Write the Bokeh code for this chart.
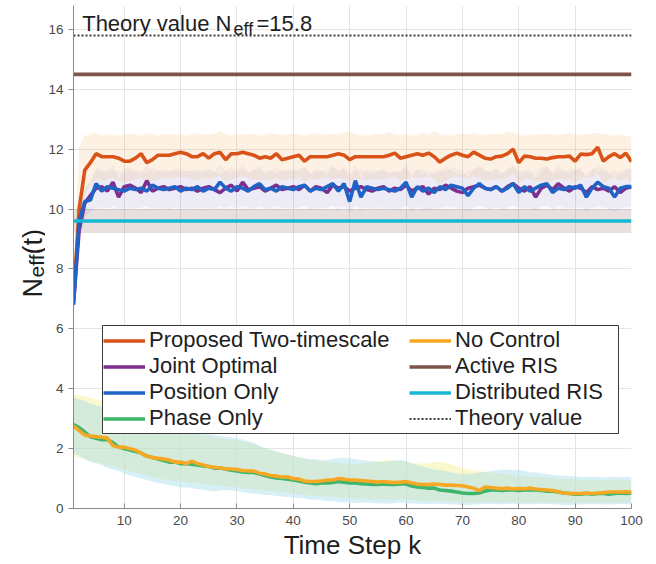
from math import pi

from bokeh.embed import file_html
from bokeh.layouts import row
from bokeh.models import (BoxAnnotation, FixedTicker, Label, Legend, LegendItem, Range1d)
from bokeh.plotting import figure
from bokeh.resources import INLINE

# ---------------------------------------------------------------- data
K = list(range(1, 101))

PROPOSED = [
    7.0, 10.0, 11.3, 11.55, 11.85, 11.75, 11.75, 11.75, 11.7, 11.6,
    11.6, 11.7, 11.85, 11.55, 11.65, 11.8, 11.8, 11.8, 11.85, 11.9,
    11.85, 11.75, 11.75, 11.85, 11.7, 11.85, 11.9, 11.65, 11.85, 11.85,
    11.9, 11.85, 11.8, 11.7, 11.75, 11.7, 11.85, 11.65, 11.7, 11.75,
    11.8, 11.6, 11.75, 11.75, 11.75, 11.75, 11.8, 11.85, 11.8, 11.65,
    11.75, 11.75, 11.75, 11.75, 11.75, 11.75, 11.8, 11.87, 11.7, 11.75,
    11.8, 11.85, 11.8, 11.87, 11.75, 11.57, 11.7, 11.8, 11.87, 11.8,
    11.75, 11.9, 11.8, 11.7, 11.67, 11.75, 11.77, 11.85, 12.0, 11.55,
    11.77, 11.75, 11.7, 11.7, 11.67, 11.72, 11.75, 11.75, 11.77, 11.6,
    11.84, 11.82, 11.85, 12.07, 11.6, 11.75, 11.85, 11.72, 11.87, 11.58,
]
PROPOSED_LO = [
    6.6, 9.2, 10.5, 10.8, 11.0, 10.95, 11.0, 11.05, 10.95, 10.9,
    10.95, 11.0, 11.05, 10.9, 10.95, 11.0, 11.05, 11.0, 11.05, 11.1,
    11.05, 11.0, 10.95, 11.05, 11.0, 11.05, 11.1, 10.95, 11.0, 11.05,
    11.1, 11.05, 11.0, 10.95, 11.0, 10.95, 11.05, 10.95, 11.0, 11.0,
    11.05, 10.9, 11.0, 11.0, 11.0, 11.05, 11.0, 11.05, 11.0, 10.95,
    11.0, 11.0, 11.0, 11.0, 11.0, 11.0, 11.05, 11.1, 10.95, 11.0,
    11.05, 11.05, 11.05, 11.1, 11.0, 10.85, 10.95, 11.05, 11.1, 11.05,
    11.0, 11.1, 11.05, 10.95, 10.95, 11.0, 11.0, 11.05, 11.2, 10.85,
    11.0, 11.0, 10.95, 10.95, 10.9, 10.95, 11.0, 11.0, 11.0, 10.85,
    11.05, 11.05, 11.05, 11.2, 10.85, 11.0, 11.05, 10.95, 11.05, 10.85,
]
PROPOSED_HI = [
    7.4, 12.1, 12.45, 12.5, 12.55, 12.45, 12.5, 12.48, 12.45, 12.5,
    12.52, 12.48, 12.45, 12.55, 12.5, 12.45, 12.5, 12.52, 12.48, 12.5,
    12.45, 12.5, 12.55, 12.5, 12.48, 12.52, 12.6, 12.5, 12.45, 12.5,
    12.48, 12.52, 12.5, 12.45, 12.5, 12.55, 12.5, 12.48, 12.5, 12.52,
    12.5, 12.45, 12.5, 12.55, 12.5, 12.48, 12.52, 12.5, 12.55, 12.6,
    12.5, 12.48, 12.45, 12.5, 12.52, 12.5, 12.58, 12.5, 12.48, 12.5,
    12.45, 12.5, 12.55, 12.5, 12.6, 12.5, 12.48, 12.45, 12.5, 12.52,
    12.5, 12.55, 12.5, 12.48, 12.5, 12.52, 12.5, 12.6, 12.55, 12.5,
    12.45, 12.5, 12.48, 12.5, 12.52, 12.5, 12.48, 12.5, 12.55, 12.5,
    12.48, 12.5, 12.52, 12.55, 12.5, 12.48, 12.45, 12.5, 12.45, 12.4,
]

JOINT = [
    6.85, 9.3, 10.2, 10.45, 10.7, 10.75, 10.6, 10.9, 10.4, 10.75,
    10.8, 10.7, 10.55, 10.95, 10.6, 10.7, 10.75, 10.65, 10.7, 10.75,
    10.65, 10.7, 10.6, 10.7, 10.75, 10.65, 10.55, 10.7, 10.8, 10.6,
    10.9, 10.65, 10.7, 10.75, 10.6, 10.7, 10.8, 10.65, 10.7, 10.75,
    10.65, 10.8, 10.6, 10.75, 10.7, 10.55, 10.8, 10.7, 10.75, 10.6,
    10.7, 10.75, 10.65, 10.6, 10.7, 10.75, 10.6, 10.7, 10.65, 10.8,
    10.6, 10.7, 10.75, 10.5, 10.7, 10.65, 10.8, 10.7, 10.6, 10.55,
    10.7, 10.75, 10.8, 10.7, 10.65, 10.75, 10.6, 10.75, 10.85, 10.7,
    10.6, 10.75, 10.4, 10.7, 10.8, 10.65, 10.85, 10.7, 10.6, 10.75,
    10.7, 10.55, 10.75, 10.65, 10.7, 10.6, 10.75, 10.55, 10.7, 10.75,
]
JOINT_LO = [
    6.3, 8.9, 9.7, 9.95, 10.05, 10.05, 10.0, 10.1, 10.0, 10.05,
    10.05, 10.0, 10.05, 10.1, 10.0, 10.05, 10.05, 10.0, 10.05, 10.05,
    10.0, 10.05, 10.0, 10.05, 10.05, 10.0, 10.0, 10.05, 10.1, 10.0,
    10.1, 10.05, 10.0, 10.05, 10.0, 10.05, 10.1, 10.0, 10.05, 10.05,
    10.0, 10.1, 10.0, 10.05, 10.05, 10.0, 10.1, 10.05, 10.05, 10.0,
    10.05, 10.05, 10.0, 10.0, 10.05, 10.05, 10.0, 10.05, 10.0, 10.1,
    10.0, 10.05, 10.05, 9.95, 10.05, 10.0, 10.1, 10.05, 10.0, 10.0,
    10.05, 10.05, 10.1, 10.05, 10.0, 10.05, 10.0, 10.05, 10.1, 10.05,
    10.0, 10.05, 9.95, 10.05, 10.1, 10.0, 10.1, 10.05, 10.0, 10.05,
    10.05, 10.0, 10.05, 10.0, 10.05, 10.0, 10.05, 10.0, 10.05, 10.05,
]
JOINT_HI = [
    7.4, 9.8, 10.7, 10.95, 11.3, 11.35, 11.2, 11.5, 11.0, 11.35,
    11.4, 11.3, 11.15, 11.55, 11.2, 11.3, 11.35, 11.25, 11.3, 11.35,
    11.25, 11.3, 11.2, 11.3, 11.35, 11.25, 11.15, 11.3, 11.4, 11.2,
    11.5, 11.25, 11.3, 11.35, 11.2, 11.3, 11.4, 11.25, 11.3, 11.35,
    11.25, 11.4, 11.2, 11.35, 11.3, 11.15, 11.4, 11.3, 11.35, 11.2,
    11.3, 11.35, 11.25, 11.2, 11.3, 11.35, 11.2, 11.3, 11.25, 11.4,
    11.2, 11.3, 11.35, 11.1, 11.3, 11.25, 11.4, 11.3, 11.2, 11.15,
    11.3, 11.35, 11.4, 11.3, 11.25, 11.35, 11.2, 11.35, 11.45, 11.3,
    11.2, 11.35, 11.0, 11.3, 11.4, 11.25, 11.45, 11.3, 11.2, 11.35,
    11.3, 11.15, 11.35, 11.25, 11.3, 11.2, 11.35, 11.15, 11.3, 11.35,
]

POSITION = [
    6.8, 9.6, 10.25, 10.3, 10.85, 10.6, 10.75, 10.7, 10.65, 10.6,
    10.7, 10.65, 10.7, 10.6, 10.8, 10.7, 10.65, 10.7, 10.75, 10.6,
    10.7, 10.65, 10.75, 10.6, 10.7, 10.65, 10.9, 10.7, 10.6, 10.75,
    10.7, 10.6, 10.75, 10.85, 10.65, 10.7, 10.6, 10.75, 10.7, 10.65,
    10.75, 10.8, 10.6, 10.7, 10.65, 10.75, 10.85, 10.6, 10.85, 10.25,
    10.95, 10.4, 10.75, 10.7, 10.65, 10.7, 10.65, 10.6, 10.7, 10.9,
    10.4, 10.75, 10.6, 10.7, 10.55, 10.75, 10.65, 10.8, 10.75, 10.7,
    10.45, 10.7, 10.85, 10.7, 10.65, 10.75, 10.6, 10.7, 10.85, 10.55,
    10.75, 10.6, 10.7, 10.8, 10.85, 10.55, 10.7, 10.65, 10.75, 10.7,
    10.8, 10.4, 10.7, 10.9, 10.75, 10.7, 10.4, 10.7, 10.75, 10.75,
]
POSITION_LO = [
    6.2, 9.0, 9.75, 9.9, 10.0, 10.0, 10.05, 10.0, 10.0, 9.95,
    10.0, 10.0, 10.05, 9.95, 10.05, 10.0, 10.0, 10.0, 10.05, 9.95,
    10.0, 10.0, 10.05, 9.95, 10.0, 10.0, 10.1, 10.0, 9.95, 10.05,
    10.0, 9.95, 10.05, 10.1, 10.0, 10.0, 9.95, 10.05, 10.0, 10.0,
    10.05, 10.05, 9.95, 10.0, 10.0, 10.05, 10.1, 9.95, 10.1, 9.85,
    10.1, 9.9, 10.05, 10.0, 10.0, 10.0, 10.0, 9.95, 10.0, 10.1,
    9.9, 10.05, 9.95, 10.0, 9.95, 10.05, 10.0, 10.05, 10.05, 10.0,
    9.9, 10.0, 10.1, 10.0, 10.0, 10.05, 9.95, 10.0, 10.1, 9.95,
    10.05, 9.95, 10.0, 10.05, 10.1, 9.95, 10.0, 10.0, 10.05, 10.0,
    10.05, 9.9, 10.0, 10.1, 10.05, 10.0, 9.9, 10.0, 10.05, 10.05,
]
POSITION_HI = [
    7.3, 10.1, 10.8, 10.85, 11.4, 11.2, 11.35, 11.3, 11.25, 11.2,
    11.3, 11.25, 11.3, 11.2, 11.4, 11.3, 11.25, 11.3, 11.35, 11.2,
    11.3, 11.25, 11.35, 11.2, 11.3, 11.25, 11.5, 11.3, 11.2, 11.35,
    11.3, 11.2, 11.35, 11.45, 11.25, 11.3, 11.2, 11.35, 11.3, 11.25,
    11.35, 11.4, 11.2, 11.3, 11.25, 11.35, 11.45, 11.2, 11.45, 10.9,
    11.5, 11.0, 11.35, 11.3, 11.25, 11.3, 11.25, 11.2, 11.3, 11.5,
    11.0, 11.35, 11.2, 11.3, 11.15, 11.35, 11.25, 11.4, 11.35, 11.3,
    11.05, 11.3, 11.45, 11.3, 11.25, 11.35, 11.2, 11.3, 11.45, 11.15,
    11.35, 11.2, 11.3, 11.4, 11.45, 11.15, 11.3, 11.25, 11.35, 11.3,
    11.4, 11.0, 11.3, 11.5, 11.35, 11.3, 11.0, 11.3, 11.35, 11.35,
]

PHASE = [
    2.8, 2.7, 2.55, 2.4, 2.35, 2.3, 2.3, 2.2, 2.05, 2.0,
    1.95, 1.9, 1.85, 1.75, 1.7, 1.65, 1.6, 1.55, 1.55, 1.5,
    1.5, 1.48, 1.45, 1.42, 1.4, 1.35, 1.35, 1.32, 1.28, 1.25,
    1.22, 1.2, 1.2, 1.15, 1.1, 1.05, 1.02, 1.0, 0.98, 0.95,
    0.92, 0.88, 0.85, 0.83, 0.85, 0.85, 0.87, 0.9, 0.88, 0.85,
    0.85, 0.83, 0.82, 0.8, 0.8, 0.82, 0.8, 0.8, 0.82, 0.82,
    0.75, 0.72, 0.7, 0.68, 0.68, 0.62, 0.6, 0.58, 0.55, 0.52,
    0.5, 0.5, 0.52, 0.58, 0.62, 0.62, 0.6, 0.62, 0.62, 0.6,
    0.62, 0.63, 0.62, 0.6, 0.58, 0.58, 0.55, 0.52, 0.5, 0.48,
    0.48, 0.5, 0.48, 0.5, 0.5, 0.48, 0.5, 0.52, 0.5, 0.52,
]
PHASE_LO = [
    1.85, 1.75, 1.65, 1.55, 1.5, 1.45, 1.35, 1.3, 1.25, 1.17,
    1.1, 1.05, 1.0, 0.95, 0.9, 0.85, 0.82, 0.78, 0.75, 0.7,
    0.7, 0.68, 0.65, 0.62, 0.6, 0.58, 0.6, 0.62, 0.6, 0.58,
    0.55, 0.52, 0.5, 0.48, 0.45, 0.45, 0.42, 0.4, 0.38, 0.37,
    0.35, 0.33, 0.3, 0.3, 0.28, 0.25, 0.25, 0.22, 0.2, 0.2,
    0.18, 0.18, 0.2, 0.18, 0.17, 0.17, 0.16, 0.18, 0.2, 0.18,
    0.17, 0.16, 0.15, 0.15, 0.16, 0.17, 0.15, 0.14, 0.13, 0.12,
    0.12, 0.13, 0.14, 0.15, 0.16, 0.15, 0.14, 0.15, 0.16, 0.15,
    0.14, 0.14, 0.15, 0.16, 0.15, 0.14, 0.13, 0.12, 0.12, 0.13,
    0.13, 0.14, 0.15, 0.14, 0.13, 0.13, 0.14, 0.15, 0.15, 0.15,
]
PHASE_HI = [
    3.7, 3.65, 3.6, 3.5, 3.45, 3.4, 3.35, 3.3, 3.25, 3.2,
    3.15, 3.1, 3.0, 2.95, 2.9, 2.85, 2.8, 2.75, 2.7, 2.65,
    2.62, 2.6, 2.55, 2.5, 2.48, 2.45, 2.42, 2.4, 2.38, 2.35,
    2.3, 2.25, 2.2, 2.1, 2.0, 1.95, 1.9, 1.85, 1.8, 1.75,
    1.7, 1.68, 1.65, 1.65, 1.6, 1.62, 1.65, 1.68, 1.7, 1.68,
    1.65, 1.62, 1.6, 1.58, 1.55, 1.55, 1.58, 1.6, 1.62, 1.6,
    1.5, 1.45, 1.4, 1.35, 1.3, 1.28, 1.25, 1.2, 1.18, 1.15,
    1.15, 1.18, 1.2, 1.22, 1.25, 1.28, 1.3, 1.3, 1.28, 1.3,
    1.25, 1.22, 1.2, 1.18, 1.15, 1.12, 1.1, 1.1, 1.08, 1.08,
    1.05, 1.05, 1.06, 1.05, 1.04, 1.05, 1.05, 1.04, 1.05, 1.05,
]

NO_CONTROL = [
    2.75, 2.6, 2.45, 2.42, 2.4, 2.38, 2.35, 2.1, 2.05, 2.05,
    2.0, 1.95, 1.85, 1.75, 1.7, 1.68, 1.65, 1.62, 1.55, 1.55,
    1.5, 1.58, 1.5, 1.45, 1.4, 1.38, 1.35, 1.33, 1.32, 1.3,
    1.27, 1.25, 1.25, 1.18, 1.15, 1.1, 1.08, 1.05, 1.05, 1.0,
    0.98, 0.92, 0.9, 0.9, 0.92, 0.95, 0.95, 1.0, 0.98, 0.95,
    0.95, 0.93, 0.92, 0.9, 0.88, 0.9, 0.88, 0.87, 0.88, 0.9,
    0.85, 0.82, 0.8, 0.8, 0.82, 0.8, 0.78, 0.78, 0.77, 0.76,
    0.72, 0.68, 0.6, 0.72, 0.7, 0.68, 0.66, 0.68, 0.65, 0.67,
    0.66, 0.68, 0.65, 0.63, 0.62, 0.6, 0.56, 0.52, 0.5, 0.5,
    0.5, 0.52, 0.5, 0.52, 0.53, 0.55, 0.55, 0.55, 0.56, 0.55,
]
NO_CONTROL_LO = [
    1.75, 1.7, 1.65, 1.6, 1.55, 1.5, 1.45, 1.42, 1.36, 1.3,
    1.25, 1.2, 1.15, 1.1, 1.05, 1.0, 0.97, 0.95, 0.92, 0.9,
    0.88, 0.86, 0.84, 0.82, 0.8, 0.78, 0.76, 0.75, 0.73, 0.7,
    0.68, 0.66, 0.64, 0.62, 0.6, 0.58, 0.56, 0.55, 0.53, 0.5,
    0.48, 0.45, 0.43, 0.42, 0.4, 0.4, 0.38, 0.36, 0.35, 0.34,
    0.33, 0.33, 0.32, 0.3, 0.3, 0.3, 0.28, 0.3, 0.3, 0.28,
    0.28, 0.27, 0.26, 0.25, 0.25, 0.24, 0.23, 0.22, 0.21, 0.2,
    0.2, 0.2, 0.21, 0.22, 0.22, 0.22, 0.21, 0.22, 0.22, 0.21,
    0.2, 0.2, 0.21, 0.21, 0.2, 0.2, 0.19, 0.18, 0.18, 0.18,
    0.18, 0.19, 0.19, 0.2, 0.2, 0.2, 0.19, 0.2, 0.2, 0.2,
]
NO_CONTROL_HI = [
    3.8, 3.78, 3.75, 3.7, 3.65, 3.6, 3.55, 3.48, 3.4, 3.3,
    3.22, 3.15, 3.05, 2.98, 2.92, 2.86, 2.8, 2.75, 2.7, 2.66,
    2.6, 2.55, 2.5, 2.45, 2.42, 2.38, 2.35, 2.32, 2.3, 2.28,
    2.25, 2.2, 2.15, 2.08, 2.0, 1.95, 1.9, 1.85, 1.8, 1.75,
    1.7, 1.65, 1.62, 1.6, 1.58, 1.55, 1.55, 1.52, 1.5, 1.5,
    1.48, 1.5, 1.52, 1.55, 1.58, 1.6, 1.62, 1.6, 1.58, 1.55,
    1.52, 1.5, 1.5, 1.52, 1.55, 1.55, 1.52, 1.48, 1.42, 1.35,
    1.3, 1.28, 1.25, 1.22, 1.2, 1.18, 1.15, 1.15, 1.12, 1.1,
    1.08, 1.06, 1.05, 1.05, 1.04, 1.02, 1.0, 1.0, 0.98, 0.98,
    0.96, 0.95, 0.95, 0.94, 0.95, 0.95, 0.96, 0.95, 0.95, 0.95,
]

ACTIVE_RIS = 14.5
DISTRIBUTED_RIS = 9.6
DISTRIBUTED_BAND = (9.2, 10.0)
THEORY = 15.8

X_TICKS = [10, 20, 30, 40, 50, 60, 70, 80, 90, 100]
Y_TICKS = [0, 2, 4, 6, 8, 10, 12, 14, 16]

# ---------------------------------------------------------------- style
FONT = "Liberation Sans"
TEXT_C = "#1e1e1e"
C_PROPOSED = "#D95319"
C_JOINT = "#7E2F8E"
C_POSITION = "#1F63C6"
C_PHASE = "#3DB56C"
C_NOCTRL = "#F7A823"
C_ACTIVE = "#7E5448"
C_DISTRIB = "#17B8D3"
C_THEORY = "#3a3a3a"
LW = 3.6

LABEL_W = 45   # strip on the left that carries the y-axis title
H = 564

p = figure(width=656 - LABEL_W, height=H, output_backend="svg", toolbar_location=None,
           x_range=Range1d(1, 100), y_range=Range1d(0, 16.8),
           min_border_left=73 - LABEL_W, min_border_right=25, min_border_top=5,
           min_border_bottom=56)
p.outline_line_color = None
p.background_fill_color = "white"
p.border_fill_color = "white"

for ax, ticks in ((p.xaxis, X_TICKS), (p.yaxis, Y_TICKS)):
    ax.ticker = FixedTicker(ticks=ticks)
    ax.axis_line_color = "#8a8a8a"
    ax.major_tick_line_color = "#8a8a8a"
    ax.minor_tick_line_color = None
    ax.major_label_text_font = FONT
    ax.major_label_text_font_size = "13.5px"
    ax.major_label_text_color = "#4a4a4a"
p.xaxis.major_tick_in = 5
p.xaxis.major_tick_out = 0
p.yaxis.major_tick_in = 0
p.yaxis.major_tick_out = 5
p.xaxis.major_label_standoff = 7
p.yaxis.major_label_standoff = 5

p.xaxis.axis_label = "Time Step k"
p.xaxis.axis_label_text_font = FONT
p.xaxis.axis_label_text_font_size = "26px"
p.xaxis.axis_label_text_font_style = "normal"
p.xaxis.axis_label_text_color = TEXT_C
p.xaxis.axis_label_standoff = 2

p.xgrid.ticker = FixedTicker(ticks=X_TICKS)
p.ygrid.ticker = FixedTicker(ticks=Y_TICKS)
p.grid.grid_line_color = "#e4e4e4"
p.grid.grid_line_width = 1

# ---------------------------------------------------------------- bands
p.varea(x=K, y1=NO_CONTROL_LO, y2=NO_CONTROL_HI, fill_color="#F3EE8A", fill_alpha=0.42)
p.varea(x=K, y1=PHASE_LO, y2=PHASE_HI, fill_color="#A6DCEB", fill_alpha=0.45)
p.varea(x=[K[0], K[-1]], y1=[DISTRIBUTED_BAND[0]] * 2, y2=[DISTRIBUTED_BAND[1]] * 2,
        fill_color=C_ACTIVE, fill_alpha=0.18)
p.varea(x=K, y1=JOINT_LO, y2=JOINT_HI, fill_color=C_JOINT, fill_alpha=0.05)
p.varea(x=K, y1=POSITION_LO, y2=POSITION_HI, fill_color=C_POSITION, fill_alpha=0.05)
p.varea(x=K, y1=PROPOSED_LO, y2=PROPOSED_HI, fill_color="#F2A65A", fill_alpha=0.16)

# ---------------------------------------------------------------- lines
r_prop = p.line(K, PROPOSED, line_color=C_PROPOSED, line_width=LW)
r_joint = p.line(K, JOINT, line_color=C_JOINT, line_width=LW)
r_pos = p.line(K, POSITION, line_color=C_POSITION, line_width=LW)
r_phase = p.line(K, PHASE, line_color=C_PHASE, line_width=LW)
r_noc = p.line(K, NO_CONTROL, line_color=C_NOCTRL, line_width=LW)
r_act = p.line([K[0], K[-1]], [ACTIVE_RIS, ACTIVE_RIS], line_color=C_ACTIVE, line_width=LW)
r_dis = p.line([K[0], K[-1]], [DISTRIBUTED_RIS, DISTRIBUTED_RIS], line_color=C_DISTRIB,
               line_width=LW)
r_the = p.line([K[0], K[-1]], [THEORY, THEORY], line_color=C_THEORY, line_width=2,
               line_dash="2 2")

# ---------------------------------------------------------------- legend
# one framed box holding two independent columns of entries
p.add_layout(BoxAnnotation(left=29, right=545, bottom=75, top=183,
                           left_units="screen", right_units="screen",
                           bottom_units="screen", top_units="screen",
                           fill_color="white", fill_alpha=1.0,
                           line_color="#3a3a3a", line_width=1, line_alpha=1.0))


def legend_column(entries, x):
    leg = Legend(items=[LegendItem(label=t, renderers=[r]) for t, r in entries],
                 location=(x, 77), orientation="vertical")
    leg.label_text_font = FONT
    leg.label_text_font_size = "22px"
    leg.label_text_color = TEXT_C
    leg.label_standoff = 4
    leg.label_height = 25
    leg.glyph_height = 25
    leg.glyph_width = 42
    leg.spacing = 0
    leg.padding = 4
    leg.margin = 0
    leg.border_line_color = None
    leg.background_fill_alpha = 0.0
    p.add_layout(leg, "center")


legend_column([("Proposed Two-timescale", r_prop), ("Joint Optimal", r_joint),
               ("Position Only", r_pos), ("Phase Only", r_phase)], 30)
legend_column([("No Control", r_noc), ("Active RIS", r_act),
               ("Distributed RIS", r_dis), ("Theory value", r_the)], 336)

# ---------------------------------------------------------------- annotation
def put(fig, text, x, y, size, angle=0.0, align="left"):
    fig.add_layout(Label(x=x, y=y, x_units="screen", y_units="screen", text=text,
                         text_font=FONT, text_font_size=size, text_color=TEXT_C,
                         text_baseline="alphabetic", text_align=align, angle=angle))


put(p, "Theory value N", 8.7, 485, "22px")
put(p, "eff", 160, 480, "18px")
put(p, "=15.8", 183, 485, "22px")

# ---------------------------------------------------------------- y-axis title strip
lab = figure(width=LABEL_W, height=H, output_backend="svg", toolbar_location=None,
             title=None, x_axis_location=None, y_axis_location=None,
             x_range=Range1d(0, LABEL_W), y_range=Range1d(0, H),
             min_border=0, min_border_left=0, min_border_right=0,
             min_border_top=0, min_border_bottom=0)
lab.grid.visible = False
lab.outline_line_color = None
lab.background_fill_color = "white"
lab.border_fill_color = "white"

# rotated pieces of the title; each is anchored at its upper end
# (screen y counts up from the bottom of the strip's frame, which the row
# aligns with the main frame)
put(lab, "N", 32, 230.5, "27px", pi / 2, "right")
put(lab, "eff", 36, 254, "21px", pi / 2, "right")
put(lab, "(t)", 32, 279.5, "27px", pi / 2, "right")

layout = row(lab, p, spacing=0)
open("out.html", "w").write(file_html(layout, INLINE))
